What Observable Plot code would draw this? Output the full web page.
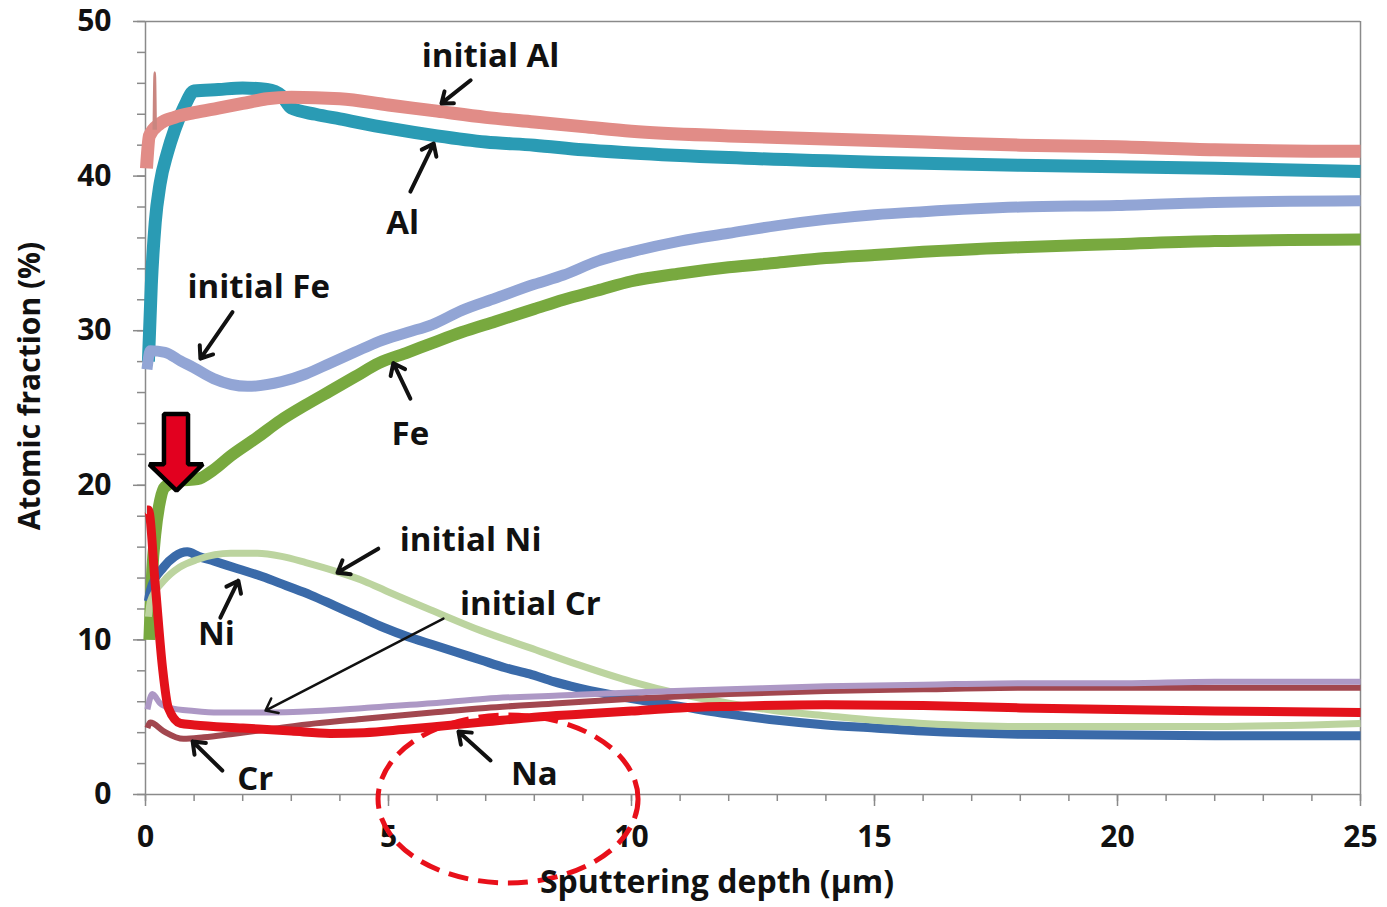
<!DOCTYPE html>
<html>
<head>
<meta charset="utf-8">
<script src="https://cdn.jsdelivr.net/npm/d3@7"></script>
<script src="https://cdn.jsdelivr.net/npm/@observablehq/plot@0.6"></script>
<style>
  html, body { margin: 0; padding: 0; background: #fff; }
  #chart { width: 1387px; height: 907px; overflow: hidden; }
</style>
</head>
<body>
<div id="chart"></div>
<script>
// ---------- data (depth in µm, atomic fraction in %) ----------
const initialAl = [[0.02,40.5],[0.08,42.6],[0.3,43.4],[0.6,43.8],[1,44.1],[1.5,44.4],[2,44.7],[2.5,45.0],[3,45.1],[4,45.0],[5,44.6],[6,44.2],[7,43.8],[8,43.5],[9,43.2],[10,42.9],[12,42.6],[14,42.4],[16,42.2],[18,42.0],[20,41.9],[22,41.7],[25,41.6]];
const initialAlSpike = [[0.17,43.0],[0.19,46.7],[0.21,43.0]];
const al = [[0.06,28],[0.12,33],[0.2,37],[0.3,39.5],[0.45,41.5],[0.6,43],[0.8,44.5],[1.0,45.5],[1.5,45.6],[2,45.7],[2.5,45.6],[2.8,45.2],[3.0,44.4],[3.5,44.0],[4,43.7],[5,43.1],[6,42.6],[7,42.2],[8,42.0],[9,41.7],[10,41.5],[12,41.2],[15,40.9],[18,40.7],[20,40.6],[22,40.5],[25,40.3]];
const initialFe = [[0.03,27.5],[0.1,28.7],[0.4,28.6],[0.72,28.05],[1.0,27.6],[1.4,26.9],[2.1,26.4],[2.8,26.7],[3.3,27.2],[3.8,27.9],[4.3,28.6],[4.8,29.3],[5.4,29.9],[5.9,30.4],[6.5,31.3],[7.2,32.1],[8,33.0],[8.6,33.6],[9.3,34.5],[10,35.1],[11,35.8],[12,36.3],[13,36.8],[14,37.2],[15,37.5],[16,37.7],[18,38.0],[20,38.1],[22,38.3],[25,38.4]];
const fe = [[0.08,10],[0.14,14.5],[0.2,16.8],[0.3,19.0],[0.4,19.9],[0.7,20.3],[1.07,20.4],[1.4,21.0],[1.75,21.9],[2.3,23.1],[2.78,24.2],[3.3,25.2],[3.8,26.1],[4.3,27.0],[4.8,27.9],[5.4,28.6],[5.9,29.2],[6.5,29.9],[7.2,30.6],[8,31.4],[8.6,32.0],[9.3,32.6],[10,33.2],[11,33.7],[12,34.1],[13,34.4],[14,34.7],[15,34.9],[16,35.1],[18,35.4],[20,35.6],[22,35.8],[25,35.9]];
const ni = [[0.06,12.5],[0.1,13.2],[0.37,14.7],[0.6,15.4],[0.86,15.7],[1.1,15.4],[1.4,15.1],[1.9,14.6],[2.4,14.1],[2.9,13.5],[3.4,12.9],[3.9,12.2],[4.4,11.5],[4.9,10.8],[5.4,10.2],[5.9,9.7],[6.4,9.2],[6.9,8.7],[7.4,8.2],[7.9,7.8],[8.4,7.3],[8.9,6.9],[9.5,6.5],[10,6.2],[11,5.7],[12,5.2],[13,4.8],[14,4.5],[15,4.3],[16,4.1],[18,3.9],[20,3.85],[22,3.8],[25,3.8]];
const initialNi = [[0.06,11.5],[0.1,12.5],[0.37,13.8],[0.7,14.7],[1.07,15.2],[1.75,15.6],[2.3,15.6],[2.8,15.4],[3.3,15.0],[3.95,14.4],[4.5,13.8],[5,13.1],[5.9,11.9],[6.9,10.6],[7.9,9.5],[8.9,8.4],[10,7.3],[11,6.5],[12,5.9],[13,5.4],[14,5.1],[15,4.8],[16,4.6],[18,4.4],[20,4.4],[22,4.4],[25,4.6]];
const initialCr = [[0.04,5.5],[0.14,6.5],[0.3,5.9],[0.5,5.6],[1,5.4],[1.5,5.3],[2.4,5.3],[3.5,5.4],[4.5,5.6],[5.9,5.9],[7,6.2],[8.5,6.4],[10,6.6],[12,6.8],[14,7.0],[16,7.1],[18,7.2],[20,7.2],[22,7.3],[25,7.3]];
const cr = [[0.04,4.3],[0.1,4.65],[0.37,4.1],[0.78,3.6],[1.2,3.7],[1.75,3.9],[2.5,4.2],[3.5,4.6],[4.5,4.9],[5.9,5.3],[7,5.6],[8.5,5.9],[10,6.2],[12,6.5],[14,6.7],[16,6.8],[18,6.9],[20,6.9],[22,6.9],[25,6.9]];
const na = [[0.03,18.4],[0.06,18.4],[0.2,13.6],[0.35,8.2],[0.47,5.6],[0.72,4.6],[1,4.5],[2,4.3],[3,4.1],[3.8,3.95],[4.5,4.0],[5.3,4.2],[6,4.4],[7,4.7],[8,5.0],[9,5.2],[10,5.4],[11,5.6],[12,5.7],[14,5.8],[16,5.75],[18,5.6],[20,5.5],[22,5.4],[25,5.3]];

// axis ticks
const xMajor = [0, 5, 10, 15, 20, 25];
const xMinor = d3.range(0, 26, 1);
const yMajor = [0, 10, 20, 30, 40, 50];
const yMinor = d3.range(0, 51, 2);

// annotations (data coordinates)
const labels = [
  {text: "initial Al", x: 7.10, y: 47.77},
  {text: "Al", x: 5.29, y: 36.97},
  {text: "initial Fe", x: 2.33, y: 32.77},
  {text: "Fe", x: 5.45, y: 23.27},
  {text: "initial Ni", x: 6.69, y: 16.42},
  {text: "Ni", x: 1.46, y: 10.34},
  {text: "initial Cr", x: 7.92, y: 12.28},
  {text: "Cr", x: 2.26, y: 0.97},
  {text: "Na", x: 8.0, y: 1.29}
];
const pointers = [
  {x1: 6.69, y1: 46.2, x2: 6.09, y2: 44.7, w: 4},
  {x1: 5.45, y1: 39.0, x2: 5.93, y2: 42.1, w: 4},
  {x1: 1.79, y1: 31.2, x2: 1.13, y2: 28.2, w: 4},
  {x1: 5.45, y1: 25.6, x2: 5.10, y2: 27.9, w: 4},
  {x1: 4.79, y1: 15.9, x2: 3.95, y2: 14.35, w: 4},
  {x1: 1.54, y1: 11.44, x2: 1.91, y2: 13.83, w: 4},
  {x1: 6.13, y1: 11.38, x2: 2.47, y2: 5.43, w: 2.5},
  {x1: 1.58, y1: 1.55, x2: 0.97, y2: 3.43, w: 4},
  {x1: 7.10, y1: 2.2, x2: 6.44, y2: 4.07, w: 4}
];
const blockArrow = [[0.38,24.62],[0.875,24.62],[0.875,21.36],[1.18,21.36],[0.638,19.65],[0.08,21.36],[0.38,21.36]];
const naHighlight = {cx: 7.47, cy: -0.32, rx: 2.675, ry: 5.43};

const series = [
  {data: al, color: "#2a9bb4", w: 13},
  {data: initialAl, color: "#e18c87", w: 13},
  {data: initialAlSpike, color: "#c98680", w: 2.5},
  {data: fe, color: "#78a93f", w: 12},
  {data: initialFe, color: "#92a5d5", w: 11},
  {data: ni, color: "#3a6aa9", w: 9},
  {data: initialNi, color: "#bcd49f", w: 7},
  {data: cr, color: "#a2474f", w: 6},
  {data: initialCr, color: "#ad98c5", w: 6},
  {data: na, color: "#e3121b", w: 9}
];

const font = "'Open Sans', 'Liberation Sans', sans-serif";
const axisGray = "#8a8a8a";

function ellipseMark(index, scales, values, dimensions, context) {
  const sx = scales.x, sy = scales.y;
  const cx = sx(naHighlight.cx), cy = sy(naHighlight.cy);
  const rx = Math.abs(sx(naHighlight.cx + naHighlight.rx) - cx);
  const ry = Math.abs(sy(naHighlight.cy + naHighlight.ry) - cy);
  return d3.create("svg:ellipse")
    .attr("cx", cx).attr("cy", cy).attr("rx", rx).attr("ry", ry)
    .attr("fill", "none").attr("stroke", "#e8101a")
    .attr("stroke-width", 5).attr("stroke-dasharray", "20,10")
    .node();
}

const chart = Plot.plot({
  width: 1387,
  height: 907,
  marginLeft: 145,
  marginRight: 27,
  marginTop: 21,
  marginBottom: 113,
  x: {domain: [0, 25]},
  y: {domain: [0, 50]},
  style: {fontFamily: font, background: "#fff", overflow: "visible", color: "#000"},
  marks: [
    Plot.ruleY([0, 50], {stroke: axisGray, strokeWidth: 1.5}),
    Plot.ruleX([0, 25], {stroke: axisGray, strokeWidth: 1.5}),
    Plot.axisY(yMinor, {tickSize: 8, tickFormat: () => "", label: null, stroke: axisGray, strokeWidth: 1.5}),
    Plot.axisY(yMajor, {tickSize: 12, tickPadding: 22, label: null, stroke: axisGray, strokeWidth: 1.5, fontSize: 30, fontWeight: "bold", fill: "#111"}),
    Plot.axisX(xMinor, {tickSize: 7, tickFormat: () => "", label: null, stroke: axisGray, strokeWidth: 1.5}),
    Plot.axisX(xMajor, {tickSize: 12, tickPadding: 19, label: null, stroke: axisGray, strokeWidth: 1.5, fontSize: 30, fontWeight: "bold", fill: "#111"}),
    ...series.map(s => Plot.line(s.data, {x: d => d[0], y: d => d[1], stroke: s.color, strokeWidth: s.w, curve: "monotone-x", strokeLinejoin: "round", strokeLinecap: "butt"})),
    Plot.arrow(pointers, {x1: "x1", y1: "y1", x2: "x2", y2: "y2", stroke: "#111", strokeWidth: d => d.w, headLength: 20, headAngle: 75, insetEnd: 0}),
    Plot.text(labels, {x: "x", y: "y", text: "text", fontSize: 33, fontWeight: "bold", fill: "#111"}),
    Plot.line(blockArrow, {x: d => d[0], y: d => d[1], fill: "#e2001f", stroke: "#000", strokeWidth: 4.5, curve: "linear-closed", strokeLinejoin: "miter"}),
    ellipseMark,
    Plot.text(["Atomic fraction (%)"], {frameAnchor: "left", textAnchor: "middle", lineAnchor: "middle", dx: -115, dy: -22, rotate: -90, fontSize: 30, fontWeight: "bold", fill: "#111"}),
    Plot.text(["Sputtering depth (µm)"], {frameAnchor: "bottom", lineAnchor: "middle", dx: -36, dy: 88, fontSize: 32, fontWeight: "bold", fill: "#111"})
  ]
});
document.getElementById("chart").appendChild(chart);
</script>
</body>
</html>
